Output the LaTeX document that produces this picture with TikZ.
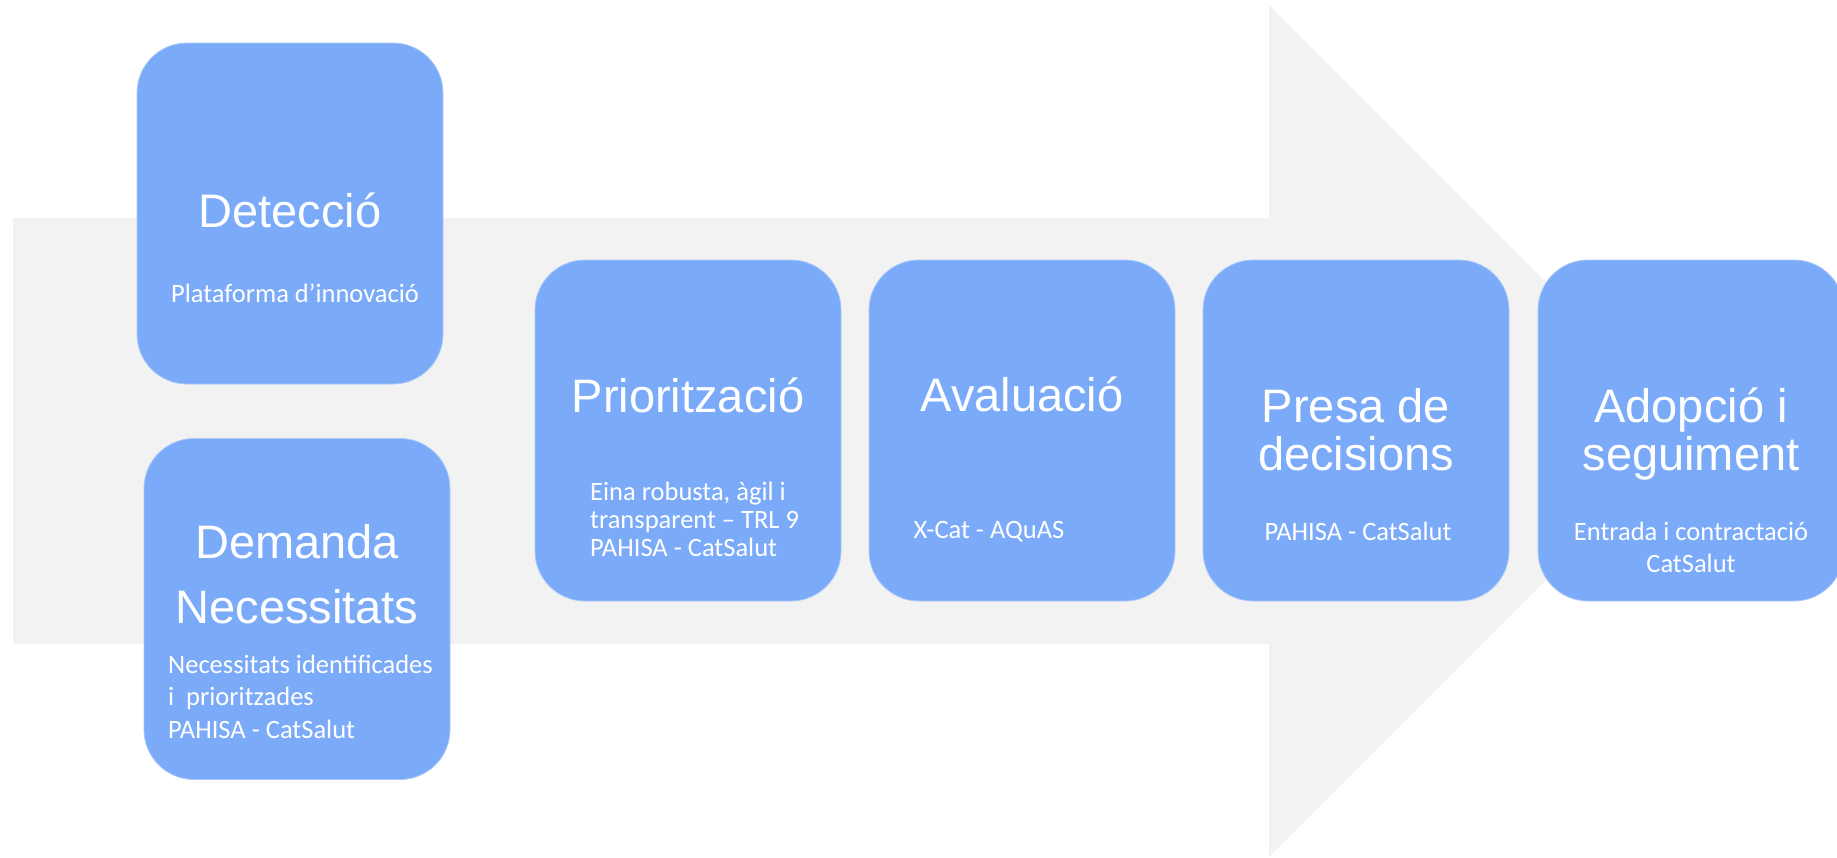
\documentclass[tikz,border=0pt]{standalone}
\usepackage{fontspec}
\setmainfont{Liberation Sans}
\newfontfamily\calibri{Carlito}
\definecolor{stageblue}{HTML}{7BABF8}
\definecolor{arrowgrey}{HTML}{F2F2F2}
\begin{document}
\begin{tikzpicture}[x=1pt,y=-1pt,
		stage/.style={fill=stageblue,draw=white!35!stageblue,line width=0.8pt,rounded corners=50pt,minimum width=306pt,minimum height=341pt,inner sep=0pt},
		ttl/.style={text=white,font=\fontsize{47}{48}\selectfont,align=center,inner sep=0pt,anchor=base},
		sub/.style={text=white,font=\calibri\fontsize{26.5}{31}\selectfont,inner sep=0pt,anchor=base}]
	\def \tl{13}\def \tr{1269}\def \tip{1695}
	\useasboundingbox (0,0) rectangle (1837,857);
	% grey arrow behind the stages
	\fill[arrowgrey] (\tl,218) -- (\tr,218) -- (\tr,5) -- (\tip,431) -- (\tr,857) -- (\tr,644) -- (\tl,644) -- cycle;
	% stages
	\node[stage] (det) at (290,213.5) {};
	\node[stage] (dem) at (297,609) {};
	\node[stage] (pri) at (688,430.5) {};
	\node[stage] (ava) at (1022,430.5) {};
	\node[stage] (pre) at (1356,430.5) {};
	\node[stage] (ado) at (1691,430.5) {};
	% texts (multi-line nodes sit on their last baseline)
	\node[ttl] (detT) at (290,227) {Detecció};
	\node[sub] (detS) at (295,302) {Plataforma d’innovació};
	\node[ttl,font=\fontsize{47}{65}\selectfont] (demT) at (297,623) {Demanda\\Necessitats};
	\node[sub,anchor=base west,align=left,font=\calibri\fontsize{26.5}{32.5}\selectfont] (demS) at (168,738) {Necessitats identificades\\i\ \ prioritzades\\PAHISA - CatSalut};
	\node[ttl] (priT) at (688,412) {Priorització};
	\node[sub,anchor=base west,align=left,font=\calibri\fontsize{26.5}{28}\selectfont] (priS) at (590,556) {Eina robusta, àgil i\\transparent – TRL 9\\PAHISA - CatSalut};
	\node[ttl] (avaT) at (1022,411) {Avaluació};
	\node[sub] (avaS) at (989,538) {X-Cat - AQuAS};
	\node[ttl] (preT) at (1356,470) {Presa de\\decisions};
	\node[sub] (preS) at (1358,540) {PAHISA - CatSalut};
	\node[ttl] (adoT) at (1691,470) {Adopció i\\seguiment};
	\node[sub,align=center,font=\calibri\fontsize{26.5}{32}\selectfont] (adoS) at (1691,572) {Entrada i contractació\\CatSalut};
\end{tikzpicture}
\end{document}
